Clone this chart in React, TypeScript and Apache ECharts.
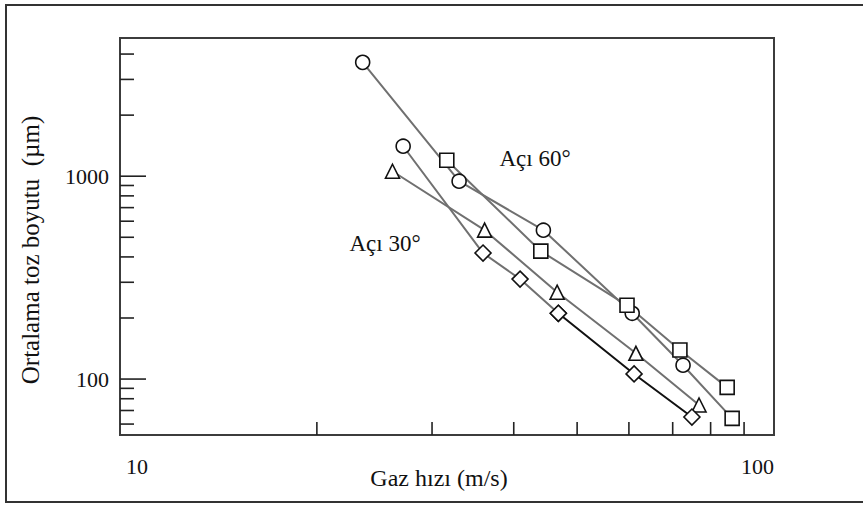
import React, { useEffect, useRef } from 'react';
import * as echarts from 'echarts';

// Axis ranges (log scales)
const X_MIN = 10;
const X_MAX = 100;
const Y_MIN = 53;
const Y_MAX = 4800;

// Tick values
const X_MINOR_TICKS = [20, 30, 40, 50, 60, 70, 80, 90];
const Y_MAJOR_TICKS = [100, 1000];
const Y_MINOR_TICKS = [60, 70, 80, 90, 200, 300, 400, 500, 600, 700, 800, 900, 2000, 3000, 4000];

// Açı 60° – circle series
const SPEED_60_CIRCLE = [23.5, 33.0, 44.4, 60.7, 72.6, 86.3];
const SIZE_60_CIRCLE = [3640, 945, 542, 211, 117, 64];
// Açı 60° – square series
const SPEED_60_SQUARE = [31.6, 44.0, 59.6, 71.8, 84.8];
const SIZE_60_SQUARE = [1199, 427, 231, 139, 91];
// Açı 30° – triangle series
const SPEED_30_TRI = [26.1, 36.1, 46.6, 61.5, 76.8];
const SIZE_30_TRI = [1058, 542, 268, 134, 74.5];
// Açı 30° – diamond series
const SPEED_30_DIAM = [27.1, 35.9, 40.9, 46.8, 61.1, 74.9];
const SIZE_30_DIAM = [1405, 418, 311, 211, 106, 65];

const LABEL_FONT = 'Liberation Serif';

function pairs(xs: number[], ys: number[]) {
  return xs.map((x, i) => [x, ys[i]]);
}

export default function App() {
  const ref = useRef<HTMLDivElement>(null);

  useEffect(() => {
    if (!ref.current) return;
    const chart = echarts.init(ref.current, null, { renderer: 'svg' });

    const markerStyle = { color: '#ffffff', borderColor: '#111111', borderWidth: 1.6 };
    const grayLine = { color: '#707070', width: 2 };

    const lineSeries = (name: string, data: any[], symbol: string, size: number, line: any) => ({
      type: 'line',
      name,
      data,
      symbol,
      symbolSize: size,
      showSymbol: true,
      showAllSymbol: true,
      lineStyle: line,
      itemStyle: markerStyle,
      silent: true,
      emphasis: { disabled: true },
      z: 3,
    });

    const circleData: any[] = pairs(SPEED_60_CIRCLE, SIZE_60_CIRCLE).map((p, i, arr) =>
      i === arr.length - 1 ? { value: p, symbol: 'rect', symbolSize: 14 } : p
    );
    const squareData = pairs(SPEED_60_SQUARE, SIZE_60_SQUARE);
    const triData = pairs(SPEED_30_TRI, SIZE_30_TRI);
    const diamAll = pairs(SPEED_30_DIAM, SIZE_30_DIAM);
    const diamGray: any[] = diamAll.slice(0, 4).map((p, i) =>
      i === 0 ? { value: p, symbol: 'circle', symbolSize: 14 } : p
    );
    const diamBlack = diamAll.slice(3);

    const tickSeries = (data: number[][], dir: 'up' | 'right', len: number) => ({
      type: 'custom',
      coordinateSystem: 'cartesian2d',
      silent: true,
      clip: false,
      z: 2,
      data,
      encode: { x: 0, y: 1 },
      renderItem: (_params: any, api: any) => {
        const p = api.coord([api.value(0), api.value(1)]);
        const shape =
          dir === 'up'
            ? { x1: p[0], y1: p[1], x2: p[0], y2: p[1] - len }
            : { x1: p[0], y1: p[1], x2: p[0] + len, y2: p[1] };
        return { type: 'line', shape, style: { stroke: '#222222', lineWidth: 1.6 } };
      },
    });

    const option: any = {
      animation: false,
      backgroundColor: '#ffffff',
      grid: {
        left: 120,
        top: 38,
        right: 89,
        bottom: 71,
        show: true,
        borderColor: '#3c3c3c',
        borderWidth: 2,
        backgroundColor: 'transparent',
      },
      xAxis: {
        type: 'log',
        logBase: 10,
        min: X_MIN,
        max: X_MAX,
        axisLine: { show: true, lineStyle: { color: '#3c3c3c', width: 2 } },
        axisTick: { show: false },
        splitLine: { show: false },
        minorTick: { show: false },
        axisLabel: {
          color: '#111111',
          fontFamily: LABEL_FONT,
          fontSize: 22,
          margin: 20,
          alignMinLabel: 'left',
          alignMaxLabel: 'right',
          padding: [0, 0, 0, 6],
          formatter: (v: number) => String(Math.round(v)),
        },
      },
      yAxis: {
        type: 'log',
        logBase: 10,
        min: Y_MIN,
        max: Y_MAX,
        axisLine: { show: true, lineStyle: { color: '#3c3c3c', width: 2 } },
        axisTick: { show: false },
        splitLine: { show: false },
        minorTick: { show: false },
        axisLabel: {
          color: '#111111',
          fontFamily: LABEL_FONT,
          fontSize: 22,
          margin: 11,
          showMinLabel: false,
          showMaxLabel: false,
          formatter: (v: number) => String(Math.round(v)),
        },
      },
      graphic: [
        {
          type: 'rect',
          silent: true,
          z: -10,
          shape: { x: 6, y: 5, width: 900, height: 497 },
          style: { fill: 'none', stroke: '#333333', lineWidth: 2 },
        },
        {
          type: 'text',
          silent: true,
          x: 30,
          y: 250,
          rotation: Math.PI / 2,
          style: {
            text: 'Ortalama toz boyutu  (µm)',
            fontFamily: LABEL_FONT,
            fontSize: 25,
            fill: '#111111',
            align: 'center',
            verticalAlign: 'middle',
          },
        },
        {
          type: 'text',
          silent: true,
          x: 439,
          y: 478,
          style: {
            text: 'Gaz hızı (m/s)',
            fontFamily: LABEL_FONT,
            fontSize: 24,
            fill: '#111111',
            align: 'center',
            verticalAlign: 'middle',
          },
        },
        {
          type: 'text',
          silent: true,
          x: 535,
          y: 158,
          style: {
            text: 'Açı 60°',
            fontFamily: LABEL_FONT,
            fontSize: 23,
            fill: '#111111',
            align: 'center',
            verticalAlign: 'middle',
          },
        },
        {
          type: 'text',
          silent: true,
          x: 385,
          y: 243,
          style: {
            text: 'Açı 30°',
            fontFamily: LABEL_FONT,
            fontSize: 23,
            fill: '#111111',
            align: 'center',
            verticalAlign: 'middle',
          },
        },
      ],
      series: [
        tickSeries(X_MINOR_TICKS.map((v) => [v, Y_MIN]), 'up', 13),
        tickSeries(Y_MAJOR_TICKS.map((v) => [X_MIN, v]), 'right', 26),
        tickSeries(Y_MINOR_TICKS.map((v) => [X_MIN, v]), 'right', 14),
        lineSeries('Açı 60° (daire)', circleData, 'circle', 14, grayLine),
        lineSeries('Açı 60° (kare)', squareData, 'rect', 14, grayLine),
        lineSeries('Açı 30° (üçgen)', triData, 'triangle', 14, grayLine),
        lineSeries('Açı 30° (baklava)', diamGray, 'diamond', 16, grayLine),
        lineSeries('Açı 30° (baklava, son)', diamBlack, 'diamond', 16, { color: '#111111', width: 2 }),
      ],
    };

    chart.setOption(option);
    return () => chart.dispose();
  }, []);

  return (
    <div
      ref={ref}
      style={{ position: 'fixed', left: 0, top: 0, width: 863, height: 506, background: '#ffffff' }}
    />
  );
}
